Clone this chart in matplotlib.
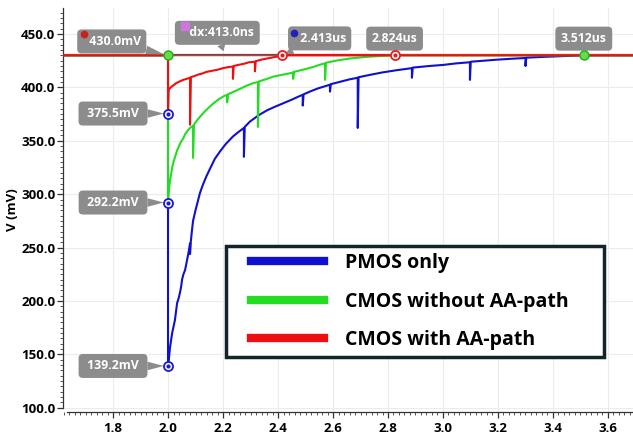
import matplotlib
matplotlib.use("Agg")
import matplotlib.pyplot as plt
from matplotlib.patches import Rectangle
from matplotlib.ticker import MultipleLocator, FormatStrFormatter
from matplotlib.transforms import offset_copy
import numpy as np

plt.rcParams['font.family'] = ['Open Sans', 'DejaVu Sans']

# ---- data (time in us, voltage in mV) ----
pmos_only = [(1.62,430),(2.0,430),(2.0,139.2),(2.004,148),(2.007,156),(2.011,163),(2.015,170),(2.020,176),
             (2.025,182),(2.029,190),(2.033,198),(2.039,203),(2.044,208.5),(2.048,214),(2.051,220),(2.056,225),
             (2.062,229),(2.066,234),(2.069,238),(2.075,246),(2.080,254),(2.080,244),(2.083,256),(2.087,266),
             (2.091,275),(2.100,285),(2.108,293),(2.116,301),(2.127,309),(2.140,317),(2.153,324),(2.170,333),
             (2.189,340),(2.210,347),(2.236,354),(2.255,358),(2.276,362),(2.276,335),(2.279,363),(2.298,368),
             (2.33,374),(2.36,378.5),(2.39,382),(2.418,385),(2.45,388.5),(2.48,392),(2.49,393),(2.49,383),
             (2.493,393.5),(2.52,396.5),(2.545,399),(2.57,401),(2.589,402.5),(2.589,396),(2.592,403),(2.63,405.5),
             (2.66,407.5),(2.69,409),(2.69,362),(2.693,409.5),(2.74,412),(2.78,414),(2.83,416),(2.887,418),
             (2.887,409),(2.89,418.5),(2.95,420),(3.0,421),(3.05,422.5),(3.098,423.5),(3.098,407),(3.101,424),
             (3.15,425),(3.2,426),(3.25,426.8),(3.30,427.5),(3.30,420),(3.303,427.8),(3.37,428.6),(3.44,429.3),
             (3.512,430),(3.69,430)]

cmos_no_aa = [(1.62,430),(2.0,430),(2.0,292.2),(2.002,300),(2.005,308),(2.008,314),(2.012,320),(2.016,326),
              (2.021,331),(2.027,336),(2.033,341),(2.040,345),(2.047,349),(2.055,352),(2.062,356),(2.070,359),
              (2.080,362),(2.091,364),(2.091,334),(2.094,365),(2.105,369),(2.118,373),(2.132,377),(2.148,381),
              (2.165,385),(2.185,389),(2.205,392),(2.215,393),(2.215,386),(2.218,393.5),(2.240,396),(2.265,399),
              (2.290,402),(2.310,404),(2.327,405),(2.327,363),(2.330,405.5),(2.355,407.5),(2.382,410),(2.41,411.5),
              (2.44,413),(2.455,414),(2.455,408),(2.458,414.5),(2.49,416.5),(2.527,419),(2.55,421),(2.571,422.5),
              (2.571,407),(2.574,423),(2.61,425),(2.66,427),(2.72,428.5),(2.78,429.5),(2.824,430),(3.69,430)]

cmos_aa = [(1.62,430),(2.0,430),(2.0,375.5),(2.002,397),(2.006,399),(2.012,400.5),(2.020,402),(2.030,404),
           (2.042,405.5),(2.055,407),(2.068,408),(2.080,409),(2.080,365),(2.083,409.5),(2.095,410.5),(2.110,412),
           (2.125,413),(2.140,414.5),(2.160,415.5),(2.180,416.5),(2.200,418),(2.220,419),(2.236,419.5),(2.236,408),
           (2.239,420),(2.255,421),(2.275,422),(2.295,423.5),(2.316,424),(2.316,415),(2.319,424.5),(2.340,426),
           (2.360,427),(2.380,428),(2.400,429),(2.413,430),(3.69,430)]

series_labels = ["PMOS only", "CMOS without AA-path", "CMOS with AA-path"]
series_colors = ["#1010d0", "#22dd22", "#ee1010"]

level_mv = 430.0
cursor_t = 2.0
cross_times = [2.413, 2.824, 3.512]
cross_labels = ["2.413us", "2.824us", "3.512us"]
cross_colors = ["#e02020", "#e02020", "#33cc33"]
min_values = [375.5, 292.2, 139.2]
dx_label = "dx:413.0ns"

x_ticks = [1.8, 2.0, 2.2, 2.4, 2.6, 2.8, 3.0, 3.2, 3.4, 3.6]
y_ticks = [100, 150, 200, 250, 300, 350, 400, 450]

# ---- figure ----
fig = plt.figure(figsize=(6.33, 4.37), dpi=100)
ax = fig.add_axes([0.0995, 0.0572, 0.9005, 0.9245])
ax.set_xlim(1.618, 3.691)
ax.set_ylim(96.1, 474.3)

for sp in ['top', 'right']:
    ax.spines[sp].set_visible(False)
ax.spines['left'].set_bounds(100, 474.3)
ax.spines['bottom'].set_bounds(1.633, 3.691)
for sp in ['left', 'bottom']:
    ax.spines[sp].set_color('#333333')
    ax.spines[sp].set_linewidth(0.9)

ax.set_xticks(x_ticks)
ax.set_yticks(y_ticks)
ax.xaxis.set_minor_locator(MultipleLocator(0.02))
ax.yaxis.set_minor_locator(MultipleLocator(5))
ax.yaxis.set_major_formatter(FormatStrFormatter('%.1f'))
ax.xaxis.set_major_formatter(FormatStrFormatter('%.1f'))
ax.tick_params(which='major', length=4, width=0.9, color='#333333', labelsize=9.5, pad=3)
ax.tick_params(axis='y', which='major', pad=1.5)
ax.tick_params(which='minor', length=2, width=0.7, color='#555555')
for lab in ax.get_xticklabels() + ax.get_yticklabels():
    lab.set_fontweight('bold')
ax.grid(True, which='major', color='#ececec', linewidth=0.8)
ax.set_axisbelow(True)
ax.set_ylabel("V (mV)", fontsize=9.5, fontweight='bold')
ax.yaxis.set_label_coords(-0.077, 0.5)

# horizontal level line
ax.axhline(level_mv, color='#c81e1e', linewidth=1.6, zorder=2)

# traces
for pts, col in zip([pmos_only, cmos_no_aa, cmos_aa], series_colors):
    arr = np.array(pts)
    ax.plot(arr[:, 0], arr[:, 1], color=col, linewidth=1.5, zorder=3)

# dx line
ax.plot([cursor_t, cross_times[0]], [level_mv, level_mv], color='#666666', linewidth=0.9, zorder=4)

# markers
def ring(x, y, col, filled=False):
    if filled:
        ax.plot([x], [y], marker='o', markersize=6.5, mfc='#66dd44', mec='#22aa22', mew=1.0, zorder=8)
    else:
        ax.plot([x], [y], marker='o', markersize=6.5, mfc='white', mec=col, mew=1.3, zorder=8)
        ax.plot([x], [y], marker='o', markersize=2, mfc=col, mec=col, zorder=9)

ring(cursor_t, level_mv, None, filled=True)
ring(cross_times[0], level_mv, cross_colors[0])
ring(cross_times[1], level_mv, cross_colors[1])
ring(cross_times[2], level_mv, None, filled=True)
for v in min_values:
    ring(cursor_t, v, '#1a1ad0')

box_fc = '#8c8c8c'

def callout(x, y, text, dx, dy):
    ax.annotate(text, xy=(x, y), xytext=(dx, dy), textcoords='offset points',
                ha='center', va='center', color='white', fontsize=8.8, fontweight='bold',
                bbox=dict(boxstyle='round,pad=0.45,rounding_size=0.35', fc=box_fc, ec='none'),
                arrowprops=dict(arrowstyle='wedge,tail_width=0.7,shrink_factor=0.5', fc=box_fc,
                                ec='none', shrinkA=0, shrinkB=3),
                zorder=7)

callout(cursor_t, level_mv, f"  {level_mv:.1f}mV", -40.5, 10)
for v in min_values:
    callout(cursor_t, v, f" {v:.1f}mV ", -39.6, 0)
dx_mid = (cursor_t + cross_times[0]) / 2
callout(dx_mid, level_mv, "   " + dx_label, -5.4, 16.2)
callout(cross_times[0], level_mv, "  " + cross_labels[0], 27.4, 12.2)
callout(cross_times[1], level_mv, cross_labels[1], 0, 12)
callout(cross_times[2], level_mv, cross_labels[2], 0, 12)

# small icons on the callouts (drawn as markers)
def icon(x, y, dx, dy, marker, col, size):
    tr = offset_copy(ax.transData, fig=fig, x=dx, y=dy, units='points')
    ax.plot([x], [y], marker=marker, markersize=size, mfc=col, mec=col, transform=tr,
            zorder=9, clip_on=False)

icon(cursor_t, level_mv, -60.5, 15, 'o', '#cc2020', 4.5)
icon(dx_mid, level_mv, -28.8, 21, 's', '#cc77dd', 5.5)
icon(cross_times[0], level_mv, 8.6, 16, 'o', '#2222bb', 4.5)

# legend
frame = Rectangle((0.286, 0.136), 0.663, 0.275, transform=ax.transAxes, fill=True,
                  fc='white', ec='#15232b', lw=2.5, zorder=10)
ax.add_patch(frame)
handles = [plt.Line2D([], [], color=c, linewidth=6) for c in series_colors]
leg = ax.legend(handles, series_labels, loc='upper left', bbox_to_anchor=(0.329, 0.393),
                frameon=False, borderpad=0, borderaxespad=0, handlelength=3.8, handletextpad=1.05,
                labelspacing=0.95, prop={'size': 14, 'weight': 'bold'})
leg.set_zorder(11)

fig.savefig("out.png", dpi=100)
